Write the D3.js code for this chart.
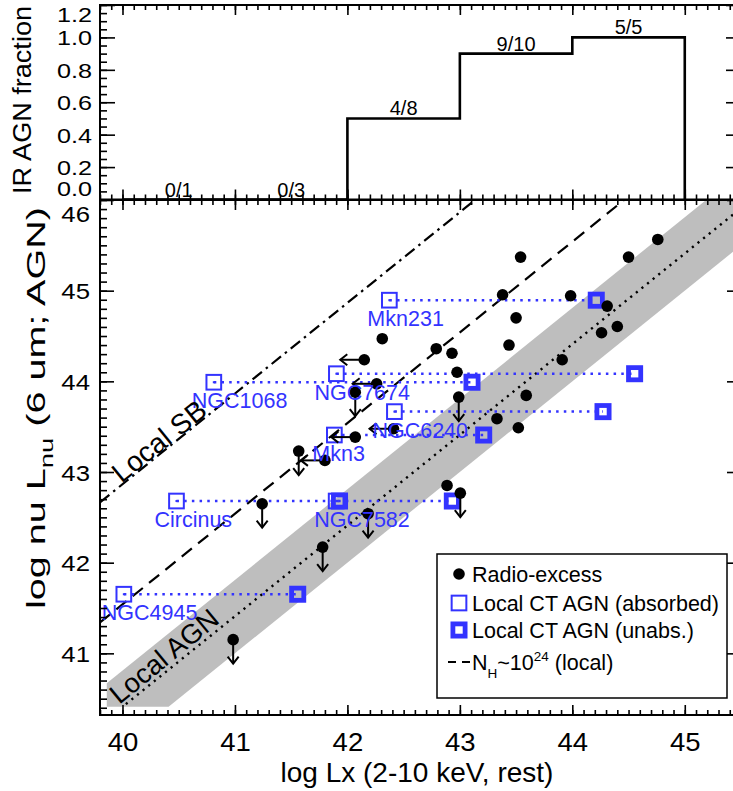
<!DOCTYPE html>
<html><head><meta charset="utf-8">
<script src="https://cdn.jsdelivr.net/npm/d3@7"></script>
<style>
body{margin:0;background:#fff;}
svg text{font-family:"Liberation Sans", Arial, Helvetica, sans-serif;}
</style></head><body>
<svg id="chart" width="733" height="791"></svg>
<script>
// ---------- DATA ----------
const fracEdges  = [40, 41, 42, 43, 44, 45];
const fracValues = [0, 0, 0.5, 0.9, 1.0];
const fracLabels = ["0/1", "0/3", "4/8", "9/10", "5/5"];

const radioX   = [44.76, 44.50, 43.54, 43.38, 43.985, 44.31, 43.50, 44.40, 44.26, 43.437, 42.79, 42.93, 42.975, 43.91, 42.31,
                  42.15, 42.26, 42.07, 42.41, 42.07, 41.567, 41.80, 42.99, 43.59, 43.33, 43.52, 42.886, 43.004, 41.242, 42.184, 41.78, 40.984];
const radioY   = [45.565, 45.37, 45.37, 44.955, 44.944, 44.83, 44.70, 44.605, 44.536, 44.40, 44.36, 44.31, 44.10, 44.238, 44.47,
                  44.238, 43.973, 43.88, 43.477, 43.385, 43.231, 43.128, 43.826, 43.845, 43.588, 43.488, 42.852, 42.767, 42.65, 42.54, 42.172, 41.151];
const radioLim = ["", "", "", "", "", "", "", "", "", "", "", "", "", "", "",
                  "left", "left", "down", "left", "left", "down", "left", "down", "", "", "", "", "down", "down", "down", "down", "down"];

const ctNames   = ["Mkn231", "NGC1068", "NGC7674", "NGC6240", "Mkn3", "Circinus", "NGC7582", "NGC4945"];
const ctY       = [44.895, 43.99, 44.084, 43.666, 43.408, 42.68, 42.68, 41.652];
const ctXabs    = [42.373, 40.812, 41.902, 42.418, 41.884, 40.48, 41.90, 40.012];
const ctXunabs  = [44.213, 43.108, 44.554, 44.273, 43.212, 42.933, 41.93, 41.558];

const xTicks    = [40, 41, 42, 43, 44, 45];
const yTicks    = [41, 42, 43, 44, 45, 46];
const fracTicks = [0.0, 0.2, 0.4, 0.6, 0.8, 1.0, 1.2];

// relations (log L6um = log Lx + offset)
const sbOffset  = 2.865;   // Local SB (dash-dot)
const nhOffset  = 1.54;    // NH~1e24 (dashed)
const agnOffset = 0.41;    // Local AGN (dotted)
const bandLo = 0.0, bandHi = 0.81, bandXmin = 39.86, bandYmin = 40.41;

// ---------- SCALES ----------
const svg = d3.select("#chart");
const x  = d3.scaleLinear().domain([39.8, 45.5]).range([100, 741]);
const y  = d3.scaleLinear().domain([40.32, 46.0]).range([715, 200]);
const yT = d3.scaleLinear().domain([0, 1.2]).range([199.5, 5]);
const BLUE = "#3333ff";
const FONT = "Liberation Sans, Arial, sans-serif";

svg.append("defs").append("clipPath").attr("id", "clipMain")
  .append("rect").attr("x", x.range()[0]).attr("y", y.range()[1])
  .attr("width", x.range()[1] - x.range()[0]).attr("height", y.range()[0] - y.range()[1]);

const main = svg.append("g").attr("clip-path", "url(#clipMain)");

// gray band
const band = [[bandXmin, bandYmin], [bandXmin, bandXmin + bandHi], [47, 47 + bandHi], [47, 47 + bandLo], [bandYmin - bandLo, bandYmin]];
main.append("path").attr("d", d3.line().x(d => x(d[0])).y(d => y(d[1]))(band) + "Z")
  .attr("fill", "#bebebe");

// relation lines
const rel = (off, x0, x1) => [[x0, x0 + off], [x1, x1 + off]];
const ln = d3.line().x(d => x(d[0])).y(d => y(d[1]));
main.append("path").attr("d", ln(rel(agnOffset, 40.03, 46))).attr("stroke", "#000").attr("stroke-width", 2.4)
  .attr("stroke-dasharray", "2.2,5").attr("fill", "none");
main.append("path").attr("d", ln(rel(nhOffset, 39.8, 46))).attr("stroke", "#000").attr("stroke-width", 2.2)
  .attr("stroke-dasharray", "13,8").attr("fill", "none");
main.append("path").attr("d", ln(rel(sbOffset, 39.8, 46))).attr("stroke", "#000").attr("stroke-width", 2.2)
  .attr("stroke-dasharray", "12,5,2.5,5").attr("fill", "none");

// connectors
ctNames.forEach((n, i) => {
  main.append("line").attr("x1", x(ctXabs[i])).attr("x2", x(ctXunabs[i]))
    .attr("y1", y(ctY[i])).attr("y2", y(ctY[i]))
    .attr("stroke", BLUE).attr("stroke-width", 2.5).attr("stroke-dasharray", "2.5,5.2");
});

// squares
function openSquare(g, cx, cy, s) {
  g.append("rect").attr("x", cx - s / 2).attr("y", cy - s / 2).attr("width", s).attr("height", s)
    .attr("fill", "none").attr("stroke", BLUE).attr("stroke-width", 2);
}
function thickSquare(g, cx, cy) {
  g.append("rect").attr("x", cx - 6.1).attr("y", cy - 6.1).attr("width", 12.2).attr("height", 12.2)
    .attr("fill", "none").attr("stroke", BLUE).attr("stroke-width", 4.8);
}
ctNames.forEach((n, i) => {
  openSquare(main, x(ctXabs[i]), y(ctY[i]), 14.7);
  main.append("rect").attr("x", x(ctXabs[i]) - 1).attr("y", y(ctY[i]) - 1).attr("width", 2).attr("height", 2).attr("fill", BLUE);
  thickSquare(main, x(ctXunabs[i]), y(ctY[i]));
});

// radio-excess points
function arrow(g, cx, cy, dir) {
  const L = 24, hw = 5.5, hl = 7;
  let p, hd;
  if (dir === "down") { p = [[cx, cy], [cx, cy + L]]; hd = [[cx - hw, cy + L - hl], [cx, cy + L], [cx + hw, cy + L - hl]]; }
  else { p = [[cx, cy], [cx - L, cy]]; hd = [[cx - L + hl, cy - hw], [cx - L, cy], [cx - L + hl, cy + hw]]; }
  g.append("path").attr("d", d3.line()(p)).attr("stroke", "#000").attr("stroke-width", 2).attr("fill", "none");
  g.append("path").attr("d", d3.line()(hd)).attr("stroke", "#000").attr("stroke-width", 2).attr("fill", "none");
}
radioX.forEach((v, i) => {
  const cx = x(v), cy = y(radioY[i]);
  if (radioLim[i]) arrow(main, cx, cy, radioLim[i]);
  main.append("circle").attr("cx", cx).attr("cy", cy).attr("r", 5.8).attr("fill", "#000");
});

// galaxy labels
ctNames.forEach((n, i) => {
  svg.append("text").attr("x", x(ctXabs[i]) - 22).attr("y", y(ctY[i]) + 26)
    .attr("font-size", 21.5).attr("fill", BLUE).text(n);
});

// relation labels
svg.append("text").attr("transform", "translate(159,441) rotate(-38.9)").attr("text-anchor", "middle")
  .attr("dy", "0.35em").attr("font-size", 28).text("Local SB");
svg.append("text").attr("transform", "translate(164,656) rotate(-39.3)").attr("text-anchor", "middle")
  .attr("dy", "0.35em").attr("font-size", 27.5).text("Local AGN");

// ---------- AXES: main ----------
function minorTicks(lo, hi, step) {
  const out = []; for (let v = lo; v <= hi + 1e-9; v += step) out.push(+v.toFixed(3)); return out;
}
const xMinor = minorTicks(39.8, 45.5, 0.1);
const yMinor = minorTicks(40.4, 46.0, 0.1);
const fMinor = minorTicks(0, 1.2, 0.05);
const axStyle = g => { g.select(".domain").remove(); g.selectAll("line").attr("stroke", "#000").attr("stroke-width", 1.6); };
const widen = (sel, k, origin) => sel.style("transform-box", "fill-box").style("transform-origin", origin)
  .style("transform", `scaleX(${k})`);

// bottom
svg.append("g").attr("transform", "translate(0,715)")
  .call(d3.axisBottom(x).tickValues(xMinor).tickSize(-5).tickFormat("")).call(axStyle);
const xb = svg.append("g").attr("transform", "translate(0,715)")
  .call(d3.axisBottom(x).tickValues(xTicks).tickSize(-10).tickPadding(18).tickFormat(d3.format("d"))).call(axStyle);
xb.selectAll("text").attr("font-size", 25).attr("fill", "#000").style("font-family", FONT).call(widen, 1.1, "center center");
// top of main
svg.append("g").attr("transform", "translate(0,200)")
  .call(d3.axisTop(x).tickValues(xMinor).tickSize(-5).tickFormat("")).call(axStyle);
svg.append("g").attr("transform", "translate(0,200)")
  .call(d3.axisTop(x).tickValues(xTicks).tickSize(-10).tickFormat("")).call(axStyle);
// left
svg.append("g").attr("transform", "translate(100,0)")
  .call(d3.axisLeft(y).tickValues(yMinor).tickSize(-7).tickFormat("")).call(axStyle);
const yl = svg.append("g").attr("transform", "translate(100,0)")
  .call(d3.axisLeft(y).tickValues(yTicks).tickSize(-14).tickPadding(10).tickFormat(d3.format("d"))).call(axStyle);
yl.selectAll("text").attr("font-size", 23).attr("fill", "#000").style("font-family", FONT)
  .attr("dy", d => d === 46 ? "0.95em" : "0.35em").call(widen, 1.12, "right center");
// right
svg.append("g").attr("transform", "translate(741,0)")
  .call(d3.axisRight(y).tickValues(yMinor).tickSize(-7).tickFormat("")).call(axStyle);
svg.append("g").attr("transform", "translate(741,0)")
  .call(d3.axisRight(y).tickValues(yTicks).tickSize(-14).tickFormat("")).call(axStyle);

// ---------- TOP PANEL ----------
const stepPts = fracEdges.map((e, i) => [e, i < fracValues.length ? fracValues[i] : 0]);
svg.append("path").attr("d", d3.line().x(d => x(d[0])).y(d => yT(d[1])).curve(d3.curveStepAfter)(stepPts))
  .attr("fill", "none").attr("stroke", "#000").attr("stroke-width", 2.6);
fracLabels.forEach((t, i) => {
  svg.append("text").attr("x", x((fracEdges[i] + fracEdges[i + 1]) / 2)).attr("y", yT(fracValues[i]) - 3)
    .attr("text-anchor", "middle").attr("font-size", 20).text(t);
});
// top panel axes
svg.append("g").attr("transform", "translate(0,199.5)")
  .call(d3.axisBottom(x).tickValues(xMinor).tickSize(-5).tickFormat("")).call(axStyle);
svg.append("g").attr("transform", "translate(0,199.5)")
  .call(d3.axisBottom(x).tickValues(xTicks).tickSize(-10).tickFormat("")).call(axStyle);
svg.append("g").attr("transform", "translate(0,5)")
  .call(d3.axisTop(x).tickValues(xMinor).tickSize(-5).tickFormat("")).call(axStyle);
svg.append("g").attr("transform", "translate(0,5)")
  .call(d3.axisTop(x).tickValues(xTicks).tickSize(-10).tickFormat("")).call(axStyle);
svg.append("g").attr("transform", "translate(100,0)")
  .call(d3.axisLeft(yT).tickValues(fMinor).tickSize(-7).tickFormat("")).call(axStyle);
const fl = svg.append("g").attr("transform", "translate(100,0)")
  .call(d3.axisLeft(yT).tickValues(fracTicks).tickSize(-15).tickPadding(8).tickFormat(d3.format(".1f"))).call(axStyle);
fl.selectAll("text").attr("font-size", 21).attr("fill", "#000").style("font-family", FONT)
  .attr("dy", d => d === 0 ? "-0.17em" : (d === 1.2 ? "0.78em" : "0.35em")).call(widen, 1.2, "right center");
svg.append("g").attr("transform", "translate(741,0)")
  .call(d3.axisRight(yT).tickValues(fMinor).tickSize(-7).tickFormat("")).call(axStyle);
svg.append("g").attr("transform", "translate(741,0)")
  .call(d3.axisRight(yT).tickValues(fracTicks).tickSize(-15).tickFormat("")).call(axStyle);

// frames
svg.append("rect").attr("x", 100).attr("y", 5).attr("width", 641).attr("height", 194.5)
  .attr("fill", "none").attr("stroke", "#000").attr("stroke-width", 2);
svg.append("rect").attr("x", 100).attr("y", 200).attr("width", 641).attr("height", 515)
  .attr("fill", "none").attr("stroke", "#000").attr("stroke-width", 2);

// axis titles
svg.append("text").attr("x", 417).attr("y", 782).attr("text-anchor", "middle").attr("font-size", 28)
  .text("log Lx (2-10 keV, rest)");
svg.append("text").attr("transform", "translate(31,100) rotate(-90)").attr("text-anchor", "middle")
  .attr("font-size", 25).attr("textLength", 188).attr("lengthAdjust", "spacingAndGlyphs").text("IR AGN fraction");
const yt = svg.append("text").attr("transform", "translate(45,408) rotate(-90)").attr("text-anchor", "middle")
  .attr("font-size", 26).attr("textLength", 402).attr("lengthAdjust", "spacingAndGlyphs");
yt.append("tspan").text("log nu L");
yt.append("tspan").attr("dy", 8).attr("font-size", 18).text("nu");
yt.append("tspan").attr("dy", -8).text(" (6 um; AGN)");

// ---------- LEGEND ----------
const lg = svg.append("g");
lg.append("rect").attr("x", 437).attr("y", 554).attr("width", 290).attr("height", 144)
  .attr("fill", "#fff").attr("stroke", "#000").attr("stroke-width", 1.5);
const legY = [574, 603, 630, 662];
lg.append("circle").attr("cx", 459).attr("cy", legY[0]).attr("r", 5.8).attr("fill", "#000");
openSquare(lg, 459, legY[1], 14.7);
thickSquare(lg, 459, legY[2]);
lg.append("line").attr("x1", 448).attr("x2", 470).attr("y1", legY[3]).attr("y2", legY[3])
  .attr("stroke", "#000").attr("stroke-width", 2.2).attr("stroke-dasharray", "8,6");
const legText = ["Radio-excess", "Local CT AGN (absorbed)", "Local CT AGN (unabs.)"];
legText.forEach((t, i) => lg.append("text").attr("x", 472).attr("y", legY[i] + 7.5).attr("font-size", 21.5).text(t));
const nh = lg.append("text").attr("x", 472).attr("y", legY[3] + 7.5).attr("font-size", 21.5);
nh.append("tspan").text("N");
nh.append("tspan").attr("dy", 8).attr("font-size", 13.5).text("H");
nh.append("tspan").attr("dy", -8).text("~10");
nh.append("tspan").attr("dy", -9).attr("font-size", 13.5).text("24");
nh.append("tspan").attr("dy", 9).text(" (local)");
</script>
</body></html>
